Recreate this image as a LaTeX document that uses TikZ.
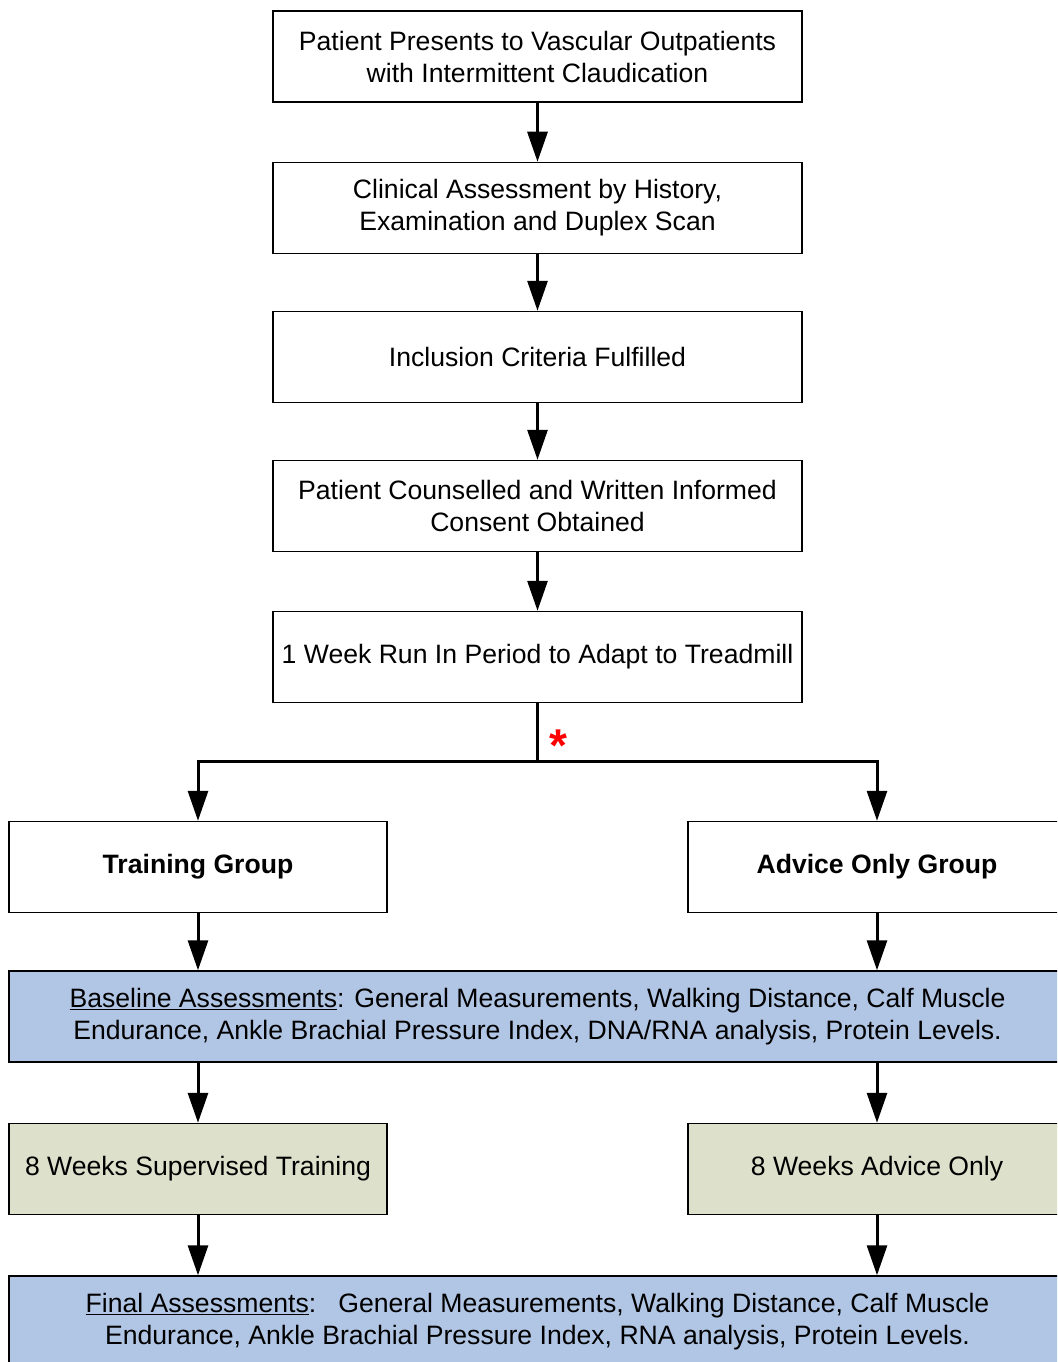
\documentclass[tikz,border=0pt]{standalone}
\usepackage{fontspec}
\setmainfont{Liberation Sans}
\usetikzlibrary{arrows.meta}
\definecolor{assessblue}{RGB}{177,197,228}
\definecolor{armgreen}{RGB}{221,224,203}
\tikzset{
  stepbox/.style={draw=black, line width=1.5pt, fill=white, minimum height=91pt,
    align=center, inner sep=2pt, font=\fontsize{26.6}{32}\selectfont},
  wide/.style={stepbox, minimum width=529pt},
  arm/.style={stepbox, minimum width=378pt},
  full/.style={stepbox, minimum width=1057pt},
  flow/.style={line width=3pt, -{Triangle[length=30pt,width=20pt]}},
  plain/.style={line width=3pt}
}
\begin{document}
\begin{tikzpicture}[x=1pt,y=-1pt]
\useasboundingbox (0,0) rectangle (1057,1362);
\clip (0,0) rectangle (1057,1362);

% main sequence
\node[wide] (b1) at (537.5,56.5) {Patient Presents to Vascular Outpatients\\with Intermittent Claudication};
\node[wide] (b2) at (537.5,208) {Clinical Assessment by History,\\Examination and Duplex Scan};
\node[wide] (b3) at (537.5,357) {Inclusion Criteria Fulfilled};
\node[wide] (b4) at (537.5,506) {Patient Counselled and Written Informed\\Consent Obtained};
\node[wide] (b5) at (537.5,657) {1 Week Run In Period to Adapt to Treadmill};
\coordinate (j) at (537.5,761);
\node[text=red, font=\fontsize{46}{46}\selectfont\bfseries] (star) at (558,746) {*};

% two arms
\node[arm] (tg) at (198,867) {\textbf{Training Group}};
\node[arm] (ag) at (877,867) {\textbf{Advice Only Group}};
\node[full, fill=assessblue] (base) at (537.5,1016.5)
  {\underline{Baseline Assessments}: General Measurements, Walking Distance, Calf Muscle\\
   Endurance, Ankle Brachial Pressure Index, DNA/RNA analysis, Protein Levels.};
\node[arm, fill=armgreen] (sup) at (198,1169) {8 Weeks Supervised Training};
\node[arm, fill=armgreen] (adv) at (877,1169) {8 Weeks Advice Only};
\node[full, fill=assessblue] (fin) at (537.5,1321.5)
  {\underline{Final Assessments}:\ \ \ General Measurements, Walking Distance, Calf Muscle\\
   Endurance, Ankle Brachial Pressure Index, RNA analysis, Protein Levels.};

% connectors
\draw[flow] (b1) -- (b2);
\draw[flow] (b2) -- (b3);
\draw[flow] (b3) -- (b4);
\draw[flow] (b4) -- (b5);
\draw[plain] (b5.south) -- (j);
\draw[flow] ([xshift=0.75pt]j) -| (tg.north);
\draw[flow] ([xshift=-0.75pt]j) -| (ag.north);
\draw[flow] (tg.south) -- (tg.south |- base.north);
\draw[flow] (ag.south) -- (ag.south |- base.north);
\draw[flow] (sup.north |- base.south) -- (sup.north);
\draw[flow] (adv.north |- base.south) -- (adv.north);
\draw[flow] (sup.south) -- (sup.south |- fin.north);
\draw[flow] (adv.south) -- (adv.south |- fin.north);
\end{tikzpicture}
\end{document}
